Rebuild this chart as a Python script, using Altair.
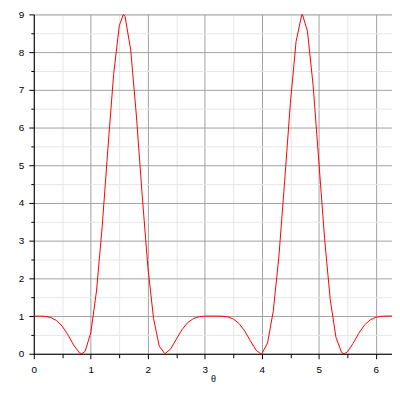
import altair as alt
import pandas as pd

theta = [0.0, 0.1, 0.2, 0.3, 0.4, 0.5, 0.6, 0.7, 0.8, 0.841, 0.9, 1.0, 1.1, 1.2, 1.3,
         1.4, 1.5, 1.571, 1.6, 1.7, 1.8, 1.9, 2.0, 2.1, 2.2, 2.3, 2.4, 2.5, 2.6, 2.7,
         2.8, 2.9, 3.0, 3.1, 3.2, 3.3, 3.4, 3.5, 3.6, 3.7, 3.8, 3.9, 3.983, 4.0, 4.1,
         4.2, 4.3, 4.4, 4.5, 4.6, 4.7, 4.712, 4.8, 4.9, 5.0, 5.1, 5.2, 5.3, 5.4, 5.442,
         5.5, 5.6, 5.7, 5.8, 5.9, 6.0, 6.1, 6.2, 6.283]
power = [1.000, 1.000, 0.992, 0.961, 0.881, 0.729, 0.499, 0.229, 0.025, 0.0, 0.064,
         0.559, 1.665, 3.379, 5.449, 7.407, 8.707, 9.0, 8.950, 8.057, 6.309, 4.229,
         2.312, 0.940, 0.204, 0.000, 0.127, 0.387, 0.642, 0.828, 0.935, 0.983, 0.998,
         1.000, 1.000, 0.997, 0.978, 0.922, 0.802, 0.603, 0.341, 0.092, 0.0, 0.005,
         0.286, 1.126, 2.597, 4.577, 6.643, 8.278, 8.991, 9.0, 8.555, 7.110, 5.094,
         3.059, 1.434, 0.436, 0.032, 0.0, 0.048, 0.274, 0.542, 0.761, 0.899, 0.969,
         0.995, 1.000, 1.0]

x_ticks = [0, 0.5, 1, 1.5, 2, 2.5, 3, 3.5, 4, 4.5, 5, 5.5, 6]
y_ticks = [0, 0.5, 1, 1.5, 2, 2.5, 3, 3.5, 4, 4.5, 5, 5.5, 6, 6.5, 7, 7.5, 8, 8.5, 9]

df = pd.DataFrame({"theta": theta, "f": power})

major = "datum.value % 1 === 0"
label_expr = f"{major} ? format(datum.value, 'd') : ''"
grid_color = {"condition": {"test": major, "value": "#a0a0a0"}, "value": "#e6e6e6"}

x_axis = alt.Axis(
    values=x_ticks,
    title="θ",
    labelExpr=label_expr,
    grid=True,
    gridColor=grid_color,
    gridWidth=1,
    tickSize={"condition": {"test": major, "value": 5}, "value": 4},
    tickColor="black",
    domainColor="black",
    labelOverlap=False,
    labelFlush=False,
    labelPadding=6,
    labelFont="Liberation Sans",
    labelFontSize=10,
    labelColor="black",
    titleFont="Liberation Sans",
    titleFontSize=9,
    titleFontWeight="normal",
    titleColor="black",
    titlePadding=0,
)
y_axis = alt.Axis(
    values=y_ticks,
    title=None,
    labelExpr=label_expr,
    grid=True,
    gridColor=grid_color,
    gridWidth=1,
    tickSize={"condition": {"test": major, "value": 5}, "value": 3},
    tickColor="black",
    domainColor="black",
    labelOverlap=False,
    labelFlush=False,
    labelPadding=5,
    labelFont="Liberation Sans",
    labelFontSize=10,
    labelColor="black",
)

chart = (
    alt.Chart(df)
    .mark_line(color="#ff0000", strokeWidth=1)
    .encode(
        x=alt.X("theta:Q", scale=alt.Scale(domain=[0, 6.283], nice=False, zero=False), axis=x_axis),
        y=alt.Y("f:Q", scale=alt.Scale(domain=[0, 9], nice=False), axis=y_axis),
    )
    .properties(
        width=361,
        height=342,
        autosize=alt.AutoSizeParams(type="none"),
        padding={"left": 26, "top": 5, "right": 0, "bottom": 30},
    )
    .configure_view(stroke=None)
    .configure(background="white")
)

chart.save("out.html", embed_options={"renderer": "svg", "actions": False})
